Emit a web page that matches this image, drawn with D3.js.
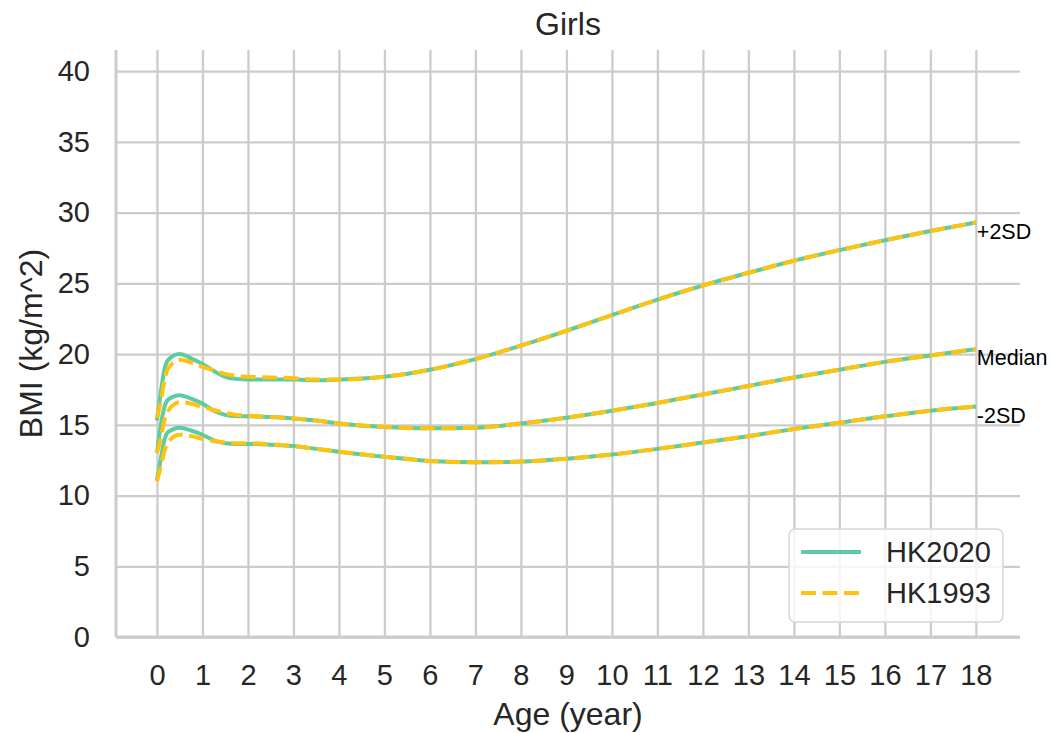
<!DOCTYPE html>
<meta charset="utf-8">
<title>Girls BMI</title>
<style>
body { margin: 0; background: #fff; }
svg { font-family: Arial, "Liberation Sans", sans-serif; }
.grid line { stroke: #cccccc; stroke-width: 2.3px; }
.grid .domain { display: none; }
.grid text { fill: #262626; font-size: 29px; }
</style>
<svg width="1050" height="733"></svg>
<script src="https://d3js.org/d3.v7.min.js"></script>
<script>
// ages (years) at which the curves were read
var ages = [0, 0.08, 0.17, 0.25, 0.5, 0.75, 1, 1.25, 1.5, 1.75, 2, 2.5, 3, 3.5, 4,
            5, 6, 7, 8, 9, 10, 11, 12, 13, 14, 15, 16, 17, 18];

// HK2020
var hk2020_plus2 = [15.3, 17.2, 19.0, 19.6, 20.0, 19.7, 19.3, 18.8, 18.4, 18.25, 18.2, 18.2, 18.2, 18.15, 18.2,
                    18.4, 18.9, 19.65, 20.6, 21.65, 22.75, 23.85, 24.85, 25.75, 26.6, 27.35, 28.05, 28.7, 29.3];
var hk2020_median = [13.0, 14.9, 16.3, 16.8, 17.1, 16.85, 16.5, 16.0, 15.7, 15.6, 15.6, 15.55, 15.45, 15.3, 15.1,
                     14.85, 14.75, 14.8, 15.1, 15.5, 16.0, 16.55, 17.15, 17.75, 18.35, 18.9, 19.45, 19.9, 20.35];
var hk2020_minus2 = [11.1, 12.5, 14.0, 14.5, 14.8, 14.6, 14.3, 13.9, 13.7, 13.65, 13.65, 13.6, 13.5, 13.3, 13.1,
                     12.75, 12.45, 12.35, 12.4, 12.6, 12.9, 13.3, 13.75, 14.2, 14.7, 15.15, 15.6, 16.0, 16.3];

// HK1993
var hk1993_plus2 = [15.5, 16.6, 18.2, 19.0, 19.6, 19.4, 19.1, 18.85, 18.6, 18.45, 18.4, 18.35, 18.3, 18.2, 18.2,
                    18.4, 18.9, 19.65, 20.6, 21.65, 22.75, 23.85, 24.85, 25.75, 26.6, 27.35, 28.05, 28.7, 29.3];
var hk1993_median = [13.0, 14.0, 15.4, 16.0, 16.6, 16.5, 16.25, 16.05, 15.85, 15.7, 15.65, 15.55, 15.45, 15.3, 15.1,
                     14.85, 14.75, 14.8, 15.1, 15.5, 16.0, 16.55, 17.15, 17.75, 18.35, 18.9, 19.45, 19.9, 20.35];
var hk1993_minus2 = [11.0, 12.0, 13.2, 13.8, 14.3, 14.2, 14.0, 13.85, 13.75, 13.7, 13.7, 13.62, 13.5, 13.3, 13.1,
                     12.75, 12.45, 12.35, 12.4, 12.6, 12.9, 13.3, 13.75, 14.2, 14.7, 15.15, 15.6, 16.0, 16.3];

var lineLabels = ["+2SD", "Median", "-2SD"];
var seriesNames = ["HK2020", "HK1993"];
var xTicks = d3.range(0, 19);
var yTicks = d3.range(0, 41, 5);

var svg = d3.select("svg"),
    pLeft = 116, pRight = 1020, pTop = 50, pBottom = 637;

var x = d3.scaleLinear().domain([-0.9, 18.97]).range([pLeft, pRight]);
var y = d3.scaleLinear().domain([0, 41.5]).range([pBottom, pTop]);

// grid + tick labels
svg.append("g")
   .attr("class", "grid")
   .attr("transform", "translate(0," + pBottom + ")")
   .call(d3.axisBottom(x).tickValues(xTicks).tickSize(-(pBottom - pTop)).tickPadding(27.5));

svg.append("g")
   .attr("class", "grid")
   .attr("transform", "translate(" + pLeft + ",0)")
   .call(d3.axisLeft(y).tickValues(yTicks).tickSize(-(pRight - pLeft)).tickPadding(26));

// spines
svg.append("line").attr("x1", pLeft).attr("x2", pLeft).attr("y1", pTop).attr("y2", pBottom)
   .style("stroke", "#cccccc").style("stroke-width", 3);
svg.append("line").attr("x1", pLeft).attr("x2", pRight).attr("y1", pBottom).attr("y2", pBottom)
   .style("stroke", "#cccccc").style("stroke-width", 3);

var line = d3.line()
    .x(function(d, i) { return x(ages[i]); })
    .y(function(d) { return y(d); })
    .curve(d3.curveMonotoneX);

var green = "#5fcba1", gold = "#ffc30f";

[hk2020_plus2, hk2020_median, hk2020_minus2].forEach(function(s) {
  svg.append("path").datum(s).attr("d", line)
     .style("fill", "none").style("stroke", green).style("stroke-width", 4);
});
[hk1993_plus2, hk1993_median, hk1993_minus2].forEach(function(s) {
  svg.append("path").datum(s).attr("d", line)
     .style("fill", "none").style("stroke", gold).style("stroke-width", 4)
     .style("stroke-dasharray", "15,6.5");
});

// end labels
[hk2020_plus2, hk2020_median, hk2020_minus2].forEach(function(s, i) {
  svg.append("text")
     .attr("x", x(18) + 1)
     .attr("y", y(s[s.length - 1]))
     .attr("dy", "0.75em")
     .style("font-size", "21.5px")
     .style("fill", "#000")
     .text(lineLabels[i]);
});

// title and axis labels
svg.append("text").attr("x", (pLeft + pRight) / 2).attr("y", 35)
   .style("text-anchor", "middle").style("font-size", "32px").style("fill", "#262626")
   .text("Girls");
svg.append("text").attr("x", (pLeft + pRight) / 2).attr("y", 725)
   .style("text-anchor", "middle").style("font-size", "32px").style("fill", "#262626")
   .text("Age (year)");
svg.append("text")
   .attr("transform", "translate(42," + (pTop + pBottom) / 2 + ") rotate(-90)")
   .style("text-anchor", "middle").style("font-size", "32px").style("fill", "#262626")
   .text("BMI (kg/m^2)");

// legend
var lg = svg.append("g");
lg.append("rect").attr("x", 789).attr("y", 529).attr("width", 214).attr("height", 93)
  .attr("rx", 6).style("fill", "rgba(255,255,255,0.8)").style("stroke", "#d6d6d6").style("stroke-width", 1.5);
seriesNames.forEach(function(n, i) {
  var ly = 552 + i * 41;
  lg.append("line").attr("x1", 801).attr("x2", 861).attr("y1", ly).attr("y2", ly)
    .style("stroke", i === 0 ? green : gold).style("stroke-width", 4)
    .style("stroke-dasharray", i === 0 ? null : "15,6.5");
  lg.append("text").attr("x", 886).attr("y", ly + 10)
    .style("font-size", "29px").style("fill", "#262626").text(n);
});
</script>
